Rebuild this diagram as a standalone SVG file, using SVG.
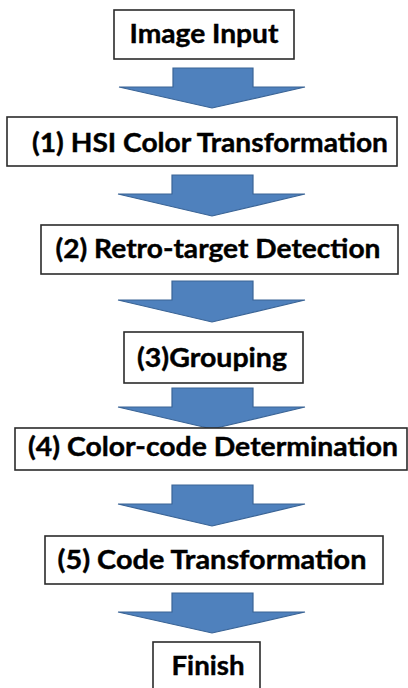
<svg xmlns="http://www.w3.org/2000/svg" width="408" height="688" viewBox="0 0 408 688">
<style>
.box{fill:#ffffff;stroke:#2b2b2b;stroke-width:1.6}
.lbl{font-family:Lato,"Open Sans","Liberation Sans",sans-serif;font-weight:bold;font-size:26px;fill:#000000;stroke:#000000;stroke-width:0.4;text-anchor:middle}
.arr{fill:#4f81bd;stroke:#3a6496;stroke-width:1.2;stroke-linejoin:miter}
</style>
<rect width="408" height="688" fill="#ffffff"/>
<g id="connectors">
<polygon class="arr" points="173,68 253,68 253,87 305,87 212,108 119,87 173,87"/>
<polygon class="arr" points="172,175 253,175 253,194 305,194 212,216 118,194 172,194"/>
<polygon class="arr" points="172,281 253,281 253,300 305,300 212,322 118,300 172,300"/>
<polygon class="arr" points="172,388 253,388 253,407 305,407 212,429 118,407 172,407"/>
<polygon class="arr" points="172,485 253,485 253,504 305,504 212,526 118,504 172,504"/>
<polygon class="arr" points="172,593 253,593 253,612 305,612 212,633 118,612 172,612"/>
</g>
<g id="n0">
<rect class="box" x="114" y="10" width="180" height="49"/>
<text class="lbl" x="204" y="43" textLength="149" lengthAdjust="spacingAndGlyphs">Image Input</text>
</g>
<g id="n1">
<rect class="box" x="7" y="117" width="390" height="49"/>
<text class="lbl" x="210" y="152" textLength="356" lengthAdjust="spacingAndGlyphs">(1) HSI Color Transformation</text>
</g>
<g id="n2">
<rect class="box" x="41" y="225" width="357" height="49"/>
<text class="lbl" x="218" y="258" textLength="325" lengthAdjust="spacingAndGlyphs">(2) Retro-target Detection</text>
</g>
<g id="n3">
<rect class="box" x="124" y="332" width="179" height="51"/>
<text class="lbl" x="212" y="367" textLength="150" lengthAdjust="spacingAndGlyphs">(3)Grouping</text>
</g>
<g id="n4">
<rect class="box" x="15" y="428" width="392" height="42"/>
<text class="lbl" x="213" y="456" textLength="370" lengthAdjust="spacingAndGlyphs">(4) Color-code Determination</text>
</g>
<g id="n5">
<rect class="box" x="45" y="536" width="338" height="48"/>
<text class="lbl" x="212" y="569" textLength="309" lengthAdjust="spacingAndGlyphs">(5) Code Transformation</text>
</g>
<g id="n6">
<rect class="box" x="153" y="642" width="107" height="50"/>
<text class="lbl" x="208" y="675" textLength="73" lengthAdjust="spacingAndGlyphs">Finish</text>
</g>
</svg>
